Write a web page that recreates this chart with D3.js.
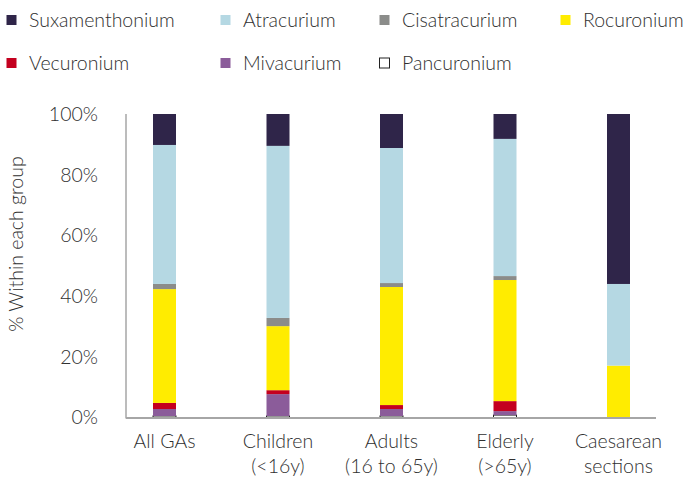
<!DOCTYPE html>
<html>
<head>
<meta charset="utf-8">
<script src="https://cdn.jsdelivr.net/npm/d3@7/dist/d3.min.js"></script>
<style>
  html, body { margin: 0; padding: 0; background: #fff; }
  svg { display: block; font-family: Lato, "Open Sans", sans-serif; font-weight: 300; }
</style>
</head>
<body>
<svg id="chart" width="687" height="482"></svg>
<script>
// Patient groups (x axis), each label split over two lines
const groups = ["All GAs", "Children (<16y)", "Adults (16 to 65y)", "Elderly (>65y)", "Caesarean sections"];
const groupLines = [["All GAs"], ["Children", "(<16y)"], ["Adults", "(16 to 65y)"], ["Elderly", "(>65y)"], ["Caesarean", "sections"]];

// Neuromuscular blocking drugs, in legend order (stacked top to bottom)
const drugs = ["Suxamenthonium", "Atracurium", "Cisatracurium", "Rocuronium", "Vecuronium", "Mivacurium", "Pancuronium"];
const drugColors = ["#2f2549", "#b5d8e3", "#8b8c8a", "#ffec00", "#c4001f", "#8b5c9a", "#ffffff"];

// % of each group receiving each drug
const suxamethonium = [10.2, 10.5, 11.2, 8.2, 56.0];
const atracurium    = [45.8, 56.7, 44.5, 45.2, 26.9];
const cisatracurium = [1.7, 2.7, 1.3, 1.3, 0];
const rocuronium    = [37.5, 21.1, 38.9, 39.9, 17.1];
const vecuronium    = [2.0, 1.3, 1.3, 3.3, 0];
const mivacurium    = [2.3, 7.2, 2.3, 1.3, 0];
const pancuronium   = [0.5, 0.5, 0.5, 0.8, 0];

const yTicks = [0, 20, 40, 60, 80, 100];

const seriesValues = [suxamethonium, atracurium, cisatracurium, rocuronium, vecuronium, mivacurium, pancuronium];

// Build table rows for d3.stack
const rows = groups.map((g, i) => {
  const r = { group: g };
  drugs.forEach((d, j) => { r[d] = seriesValues[j][i]; });
  return r;
});

// Stack from the bottom: Pancuronium first, Suxamethonium on top
const stackKeys = drugs.slice().reverse();
const stacked = d3.stack().keys(stackKeys)(rows);
const colorOf = d3.scaleOrdinal().domain(drugs).range(drugColors);

const svg = d3.select("#chart");
const textColor = "#303030";
const fontSize = 19.5;

const x = d3.scalePoint().domain(groups).range([164.5, 618.5]);
const y = d3.scaleLinear().domain([0, 100]).range([417.5, 114]);
const barW = 23;

// Bars
svg.append("g").selectAll("g")
  .data(stacked)
  .join("g")
  .attr("fill", d => colorOf(d.key))
  .attr("stroke", d => d.key === "Pancuronium" ? "#222" : "none")
  .attr("stroke-width", 1)
  .selectAll("rect")
  .data(d => d.filter(s => s[1] - s[0] > 0))
  .join("rect")
  .attr("x", d => x(d.data.group) - barW / 2)
  .attr("width", barW)
  .attr("y", d => y(d[1]))
  .attr("height", d => y(d[0]) - y(d[1]));

// Axis lines
const axisColor = "#a6a6a6";
svg.append("line")
  .attr("x1", 126).attr("x2", 126)
  .attr("y1", y(100)).attr("y2", y(0) + 1)
  .attr("stroke", axisColor).attr("stroke-width", 1.5);
svg.append("line")
  .attr("x1", 126).attr("x2", 656)
  .attr("y1", y(0) + 0.5).attr("y2", y(0) + 0.5)
  .attr("stroke", axisColor).attr("stroke-width", 2);

// Y tick labels
svg.append("g").selectAll("text")
  .data(yTicks)
  .join("text")
  .attr("x", 98)
  .attr("y", d => y(d))
  .attr("dy", "0.35em")
  .attr("text-anchor", "end")
  .attr("font-size", fontSize)
  .attr("fill", textColor)
  .text(d => d + "%");

// Y axis title
svg.append("text")
  .attr("transform", "translate(23,244) rotate(-90)")
  .attr("text-anchor", "middle")
  .attr("font-size", fontSize)
  .attr("fill", textColor)
  .text("% Within each group");

// X category labels
const xl = svg.append("g").selectAll("text")
  .data(groups)
  .join("text")
  .attr("text-anchor", "middle")
  .attr("font-size", fontSize)
  .attr("fill", textColor);
xl.each(function(g, i) {
  d3.select(this).selectAll("tspan")
    .data(groupLines[i])
    .join("tspan")
    .attr("x", x(g))
    .attr("y", (d, k) => 448 + k * 25)
    .text(d => d);
});

// Legend: two rows
const legendPos = [
  [6, 20], [220, 20], [379, 20], [560, 20],
  [6, 63], [220, 63], [379, 63]
];
const legend = svg.append("g").selectAll("g")
  .data(drugs)
  .join("g")
  .attr("transform", (d, i) => `translate(${legendPos[i][0]},${legendPos[i][1]})`);
legend.append("rect")
  .attr("x", 0.5).attr("y", -5)
  .attr("width", 10).attr("height", 10)
  .attr("fill", d => colorOf(d))
  .attr("stroke", d => d === "Pancuronium" ? "#222" : "none");
legend.append("text")
  .attr("x", 23)
  .attr("dy", "0.35em")
  .attr("font-size", fontSize)
  .attr("fill", textColor)
  .text(d => d);
</script>
</body>
</html>
